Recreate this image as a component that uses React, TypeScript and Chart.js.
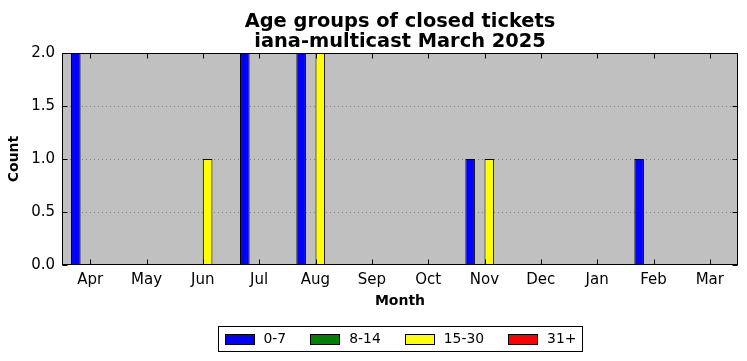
import { useEffect, useRef } from 'react';
import { Chart, registerables } from 'chart.js';

Chart.register(...registerables);

const months = ['Apr', 'May', 'Jun', 'Jul', 'Aug', 'Sep', 'Oct', 'Nov', 'Dec', 'Jan', 'Feb', 'Mar'];
const age0to7 = [2, 0, 0, 2, 2, 0, 0, 1, 0, 0, 1, 0];
const age8to14 = [0, 0, 0, 0, 0, 0, 0, 0, 0, 0, 0, 0];
const age15to30 = [0, 0, 1, 0, 2, 0, 0, 1, 0, 0, 0, 0];
const age31plus = [0, 0, 0, 0, 0, 0, 0, 0, 0, 0, 0, 0];
const seriesLabels = ['0-7', '8-14', '15-30', '31+'];
const seriesColors = ['#0000ff', '#008000', '#ffff00', '#ff0000'];
const yTickValues = [0, 0.5, 1, 1.5, 2];
const titleLines = ['Age groups of closed tickets', 'iana-multicast March 2025'];
const xAxisTitle = 'Month';
const yAxisTitle = 'Count';

const FONT = '"DejaVu Sans", sans-serif';

const decorPlugin = {
  id: 'decor',
  beforeDatasetsDraw(chart: any) {
    const { ctx, chartArea } = chart;
    const { left, top, right, bottom } = chartArea;
    const yScale = chart.scales.y;
    ctx.save();
    ctx.fillStyle = '#c0c0c0';
    ctx.fillRect(left, top, right - left, bottom - top);
    ctx.strokeStyle = '#808080';
    ctx.lineWidth = 1;
    ctx.setLineDash([1, 3]);
    for (const v of yTickValues) {
      if (v <= 0 || v >= 2) continue;
      const y = Math.round(yScale.getPixelForValue(v)) + 0.5;
      ctx.beginPath();
      ctx.moveTo(left, y);
      ctx.lineTo(right, y);
      ctx.stroke();
    }
    ctx.restore();
  },
  afterDraw(chart: any) {
    const { ctx, chartArea } = chart;
    const { left, top, right, bottom } = chartArea;
    const xScale = chart.scales.x;
    const yScale = chart.scales.y;
    ctx.save();
    // frame
    ctx.strokeStyle = '#000';
    ctx.lineWidth = 1;
    ctx.setLineDash([]);
    const L = Math.round(left) + 0.5;
    const R = Math.round(right) - 0.5;
    const T = Math.round(top) + 0.5;
    const B = Math.round(bottom) - 0.5;
    ctx.strokeRect(L, T, R - L, B - T);
    // inner ticks
    const tl = 5;
    ctx.beginPath();
    for (let i = 0; i < months.length; i++) {
      const x = Math.round(xScale.getPixelForValue(i)) + 0.5;
      ctx.moveTo(x, B);
      ctx.lineTo(x, B - tl);
      ctx.moveTo(x, T);
      ctx.lineTo(x, T + tl);
    }
    for (const v of yTickValues) {
      const y = Math.round(yScale.getPixelForValue(v)) + 0.5;
      ctx.moveTo(L, y);
      ctx.lineTo(L + tl, y);
      ctx.moveTo(R, y);
      ctx.lineTo(R - tl, y);
    }
    ctx.stroke();

    // title
    ctx.fillStyle = '#000';
    ctx.font = `bold 19.4px ${FONT}`;
    ctx.textAlign = 'center';
    ctx.textBaseline = 'alphabetic';
    const cx = (left + right) / 2;
    ctx.fillText(titleLines[0], cx, 26.8);
    ctx.fillText(titleLines[1], cx, 47.4);

    // legend
    ctx.font = `13.9px ${FONT}`;
    const swW = 29, swH = 10, swGap = 10, itemGap = 24, pad = 6;
    const widths = seriesLabels.map((t) => swW + swGap + ctx.measureText(t).width);
    const total = widths.reduce((a, b) => a + b, 0) + itemGap * (seriesLabels.length - 1) + pad * 2;
    const boxL = Math.round(cx - total / 2) + 0.5;
    const boxT = 326.5;
    const boxH = 25;
    ctx.strokeStyle = '#000';
    ctx.fillStyle = '#fff';
    ctx.fillRect(boxL, boxT, total, boxH);
    ctx.strokeRect(boxL, boxT, Math.round(total), boxH);
    let x = boxL + pad;
    const midY = boxT + boxH / 2;
    ctx.textAlign = 'left';
    ctx.textBaseline = 'middle';
    seriesLabels.forEach((t, i) => {
      const sx = Math.round(x) + 0.5;
      const sy = Math.round(midY - swH / 2) + 0.5;
      ctx.fillStyle = seriesColors[i];
      ctx.fillRect(sx, sy, swW, swH);
      ctx.strokeStyle = '#000';
      ctx.strokeRect(sx, sy, swW, swH);
      ctx.fillStyle = '#000';
      ctx.fillText(t, x + swW + swGap, midY + 0.5);
      x += widths[i] + itemGap;
    });
    ctx.restore();
  },
};

export default function App() {
  const ref = useRef<HTMLCanvasElement | null>(null);
  useEffect(() => {
    if (!ref.current) return;
    const seriesData = [age0to7, age8to14, age15to30, age31plus];
    const chart = new Chart(ref.current, {
      type: 'bar',
      data: {
        labels: months,
        datasets: seriesLabels.map((label, i) => ({
          label,
          data: seriesData[i],
          backgroundColor: seriesColors[i],
          borderColor: '#000',
          borderWidth: 1,
          categoryPercentage: 0.68,
          barPercentage: 1,
        })),
      },
      options: {
        animation: false,
        responsive: false,
        devicePixelRatio: 1,
        layout: { padding: { left: 0, top: 53, right: 9, bottom: 0 } },
        plugins: {
          legend: { display: false },
          title: { display: false },
          tooltip: { enabled: false },
        },
        scales: {
          x: {
            offset: true,
            grid: { display: false, drawTicks: false },
            border: { display: false },
            ticks: {
              color: '#000',
              font: { family: FONT, size: 15 },
              padding: 6,
              maxRotation: 0,
              autoSkip: false,
            },
            title: {
              display: true,
              text: xAxisTitle,
              color: '#000',
              font: { family: FONT, size: 14, weight: 'bold' },
              padding: { top: 0, bottom: 51 },
            },
            afterFit: (s: any) => {
              s.height = 96;
            },
          },
          y: {
            min: 0,
            max: 2,
            grid: { display: false, drawTicks: false },
            border: { display: false },
            afterBuildTicks: (s: any) => {
              s.ticks = yTickValues.map((v) => ({ value: v }));
            },
            ticks: {
              color: '#000',
              font: { family: FONT, size: 15 },
              padding: 7,
              callback: (v: any) => Number(v).toFixed(1),
            },
            title: {
              display: true,
              text: yAxisTitle,
              color: '#000',
              font: { family: FONT, size: 14, weight: 'bold' },
              padding: { top: 6, bottom: 0 },
            },
            afterFit: (s: any) => {
              s.width = 62;
            },
          },
        },
      },
      plugins: [decorPlugin],
    });
    return () => chart.destroy();
  }, []);
  return (
    <div style={{ position: 'fixed', left: 0, top: 0, width: 747, height: 361, background: '#fff' }}>
      <canvas ref={ref} width={747} height={361} />
    </div>
  );
}
